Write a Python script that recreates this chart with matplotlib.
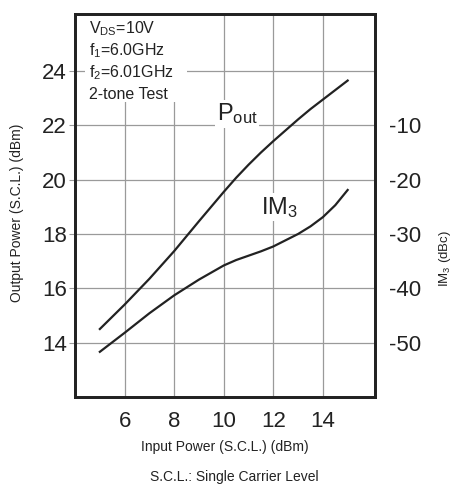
import matplotlib
matplotlib.use("Agg")
import matplotlib.pyplot as plt
from matplotlib.patches import Rectangle

# ==================== #
# ======= DATA ======= #
# ==================== #
input_dbm = [5, 6, 7, 8, 9, 10, 10.5, 11, 11.5, 12, 13, 13.5, 14, 14.5, 15]
pout_dbm = [14.5, 15.4, 16.35, 17.37, 18.47, 19.55, 20.07, 20.55, 21.0, 21.42,
            22.22, 22.6, 22.95, 23.3, 23.65]
im3_dbc = [-51.7, -48.2, -44.6, -41.3, -38.4, -35.8, -34.8, -34.0, -33.2, -32.3,
           -30.0, -28.6, -26.9, -24.7, -21.9]

x_ticks = [6, 8, 10, 12, 14]
left_ticks = [14, 16, 18, 20, 22, 24]
right_ticks = [-50, -40, -30, -20, -10]

cond_lines = [r"V$_{\mathrm{DS}}$=10V", r"f$_{\mathrm{1}}$=6.0GHz",
              r"f$_{\mathrm{2}}$=6.01GHz", "2-tone Test"]

# ==================== #
# ====== STYLE ======= #
# ==================== #
plt.rcParams["font.family"] = ["Liberation Sans", "DejaVu Sans"]
plt.rcParams["mathtext.fontset"] = "custom"
plt.rcParams["mathtext.rm"] = "Liberation Sans"
plt.rcParams["mathtext.it"] = "Liberation Sans:italic"
plt.rcParams["mathtext.bf"] = "Liberation Sans:bold"
plt.rcParams["axes.unicode_minus"] = False

fig = plt.figure(figsize=(4.55, 4.84), dpi=100)
ax = fig.add_axes([0.165, 0.180, 0.659, 0.791])
ax2 = ax.twinx()

# left axis: output power
ax.plot(input_dbm, pout_dbm, color="#222222", lw=1.6, zorder=3,
        solid_joinstyle="round")
ax.set_xlim(4, 16.1)
ax.set_ylim(12, 26.1)
ax.set_xticks(x_ticks)
ax.set_yticks(left_ticks)
ax.set_axisbelow(True)
ax.grid(True, color="#9a9a9a", lw=0.9)
ax.tick_params(axis="y", length=4, color="#9a9a9a", labelsize=16, pad=2,
               labelcolor="#222222")
ax.tick_params(axis="x", length=0, labelsize=16, pad=10, labelcolor="#222222")
for sp in ax.spines.values():
    sp.set_linewidth(2.0)
    sp.set_color("#222222")

ax.set_xlabel("Input Power (S.C.L.) (dBm)", fontsize=10, labelpad=6,
              color="#222222")
ax.set_ylabel("Output Power (S.C.L.) (dBm)", fontsize=10, color="#222222")
ax.yaxis.set_label_coords(-0.17, 0.48)

# right axis: IM3
ax2.plot(input_dbm, im3_dbc, color="#222222", lw=1.6, solid_joinstyle="round")
ax2.set_ylim(-60, 10.5)
ax2.set_yticks(right_ticks)
ax2.tick_params(axis="y", length=0, labelsize=16, pad=10, labelcolor="#222222")
for sp in ax2.spines.values():
    sp.set_linewidth(2.0)
    sp.set_color("#222222")
ax2.set_ylabel(r"IM$_{\mathrm{3}}$ (dBc)", fontsize=9.5, rotation=90,
               color="#222222")
ax2.yaxis.set_label_coords(1.207, 0.36)

# condition block, white backing over the grid
ax.add_patch(Rectangle((0.033, 0.77), 0.34, 0.23, transform=ax.transAxes,
                       facecolor="white", edgecolor="none", zorder=1))
for i, line in enumerate(cond_lines):
    ax.text(0.047, 0.95 - i * 0.0575, line, transform=ax.transAxes,
            fontsize=11.5, va="baseline", ha="left", color="#222222", zorder=4)

# curve labels
ax.text(9.72, 22.18, r"P$_{\mathrm{out}}$", fontsize=17, va="baseline", ha="left",
        color="#222222", zorder=4,
        bbox=dict(facecolor="white", edgecolor="none", pad=1))
ax.text(11.49, 18.75, r"IM$_{\mathrm{3}}$", fontsize=17, va="baseline", ha="left",
        color="#222222", zorder=4,
        bbox=dict(facecolor="white", edgecolor="none", pad=1))

fig.text(0.516, 0.0145, "S.C.L.: Single Carrier Level", fontsize=10,
         ha="center", va="center", color="#222222")

plt.savefig("out.png", dpi=100)
